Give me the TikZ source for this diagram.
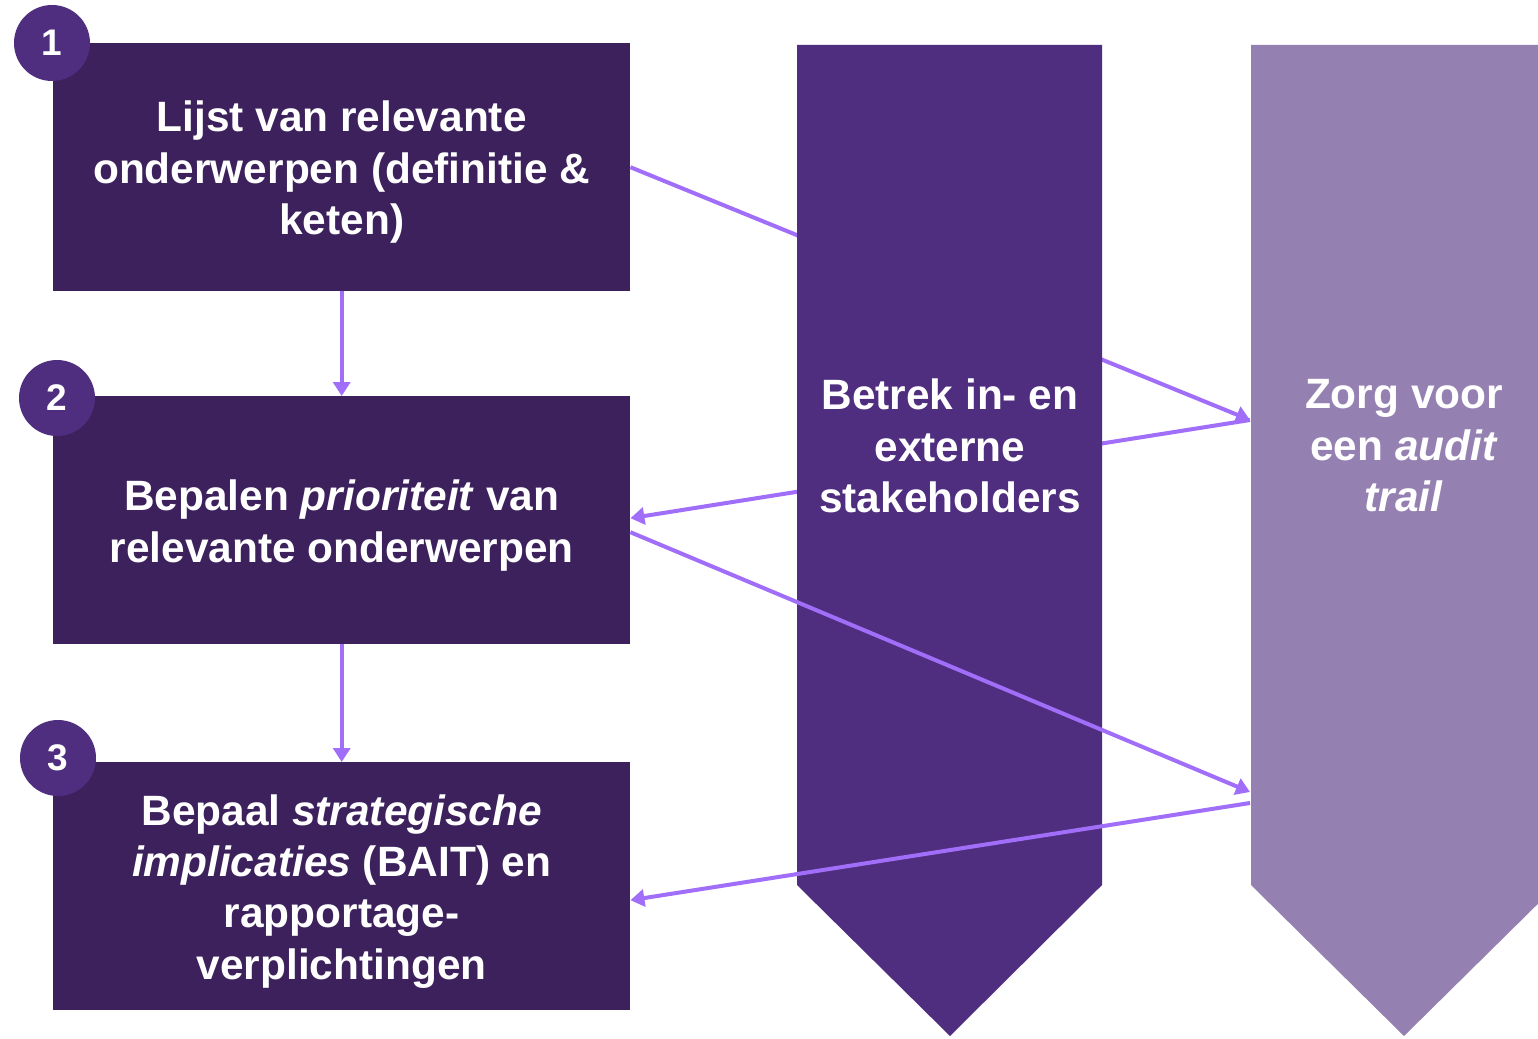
\documentclass[tikz,border=0pt]{standalone}
\usepackage{fontspec}
\setmainfont{Liberation Sans}
\usetikzlibrary{arrows.meta}
\definecolor{boxc}{HTML}{3C215C}
\definecolor{chev}{HTML}{4F2D7F}
\definecolor{chevl}{HTML}{9581B1}
\definecolor{arr}{HTML}{A06EF8}
\newcommand\firstlinestrut{\rule{0pt}{41pt}}
\begin{document}
\begin{tikzpicture}[x=1pt,y=-1pt,
  stepbox/.style={fill=boxc, minimum width=577pt, minimum height=248pt, inner sep=0pt, text=white,
    font=\fontsize{42.4}{51.4}\selectfont\bfseries, align=center, anchor=north west},
  numc/.style={circle, fill=chev, minimum size=76pt, inner sep=0pt, text=white,
    font=\fontsize{37}{40}\selectfont\bfseries},
  coltext/.style={text=white, font=\fontsize{42.4}{51.4}\selectfont\bfseries, align=center},
  conn/.style={draw=arr, line width=4pt, -{Triangle[length=14pt,width=17pt]}}]
\useasboundingbox (0,0) rectangle (1538,1038);
\fill[white] (0,0) rectangle (1538,1038);
% boxes
\path (53,43) node[stepbox] (b1) {\firstlinestrut Lijst van relevante\\onderwerpen (definitie \&\\keten)};
\path (53,396) node[stepbox] (b2) {\firstlinestrut Bepalen \textit{prioriteit} van\\relevante onderwerpen};
\path (53,762) node[stepbox] (b3) {\firstlinestrut Bepaal \textit{strategische}\\\textit{implicaties} (BAIT) en\\rapportage-\\verplichtingen};
\coordinate (z1) at (1250,420);
\coordinate (z2) at (1250,792);
\coordinate (z3) at (1250,803);
% connectors behind the first column
\draw[conn] (b1.east) -- (z1);
\draw[conn] (z1) -- ([yshift=2pt]b2.east);
\draw[conn] (b1.south) -- (b2.north);
\draw[conn] (b2.south) -- (b3.north);
% columns
\fill[chev] (797,45) -- (1102,45) -- (1102,885) -- (950,1036) -- (797,885) -- cycle;
\fill[chevl] (1251,45) -- (1557,45) -- (1557,885) -- (1404,1036) -- (1251,885) -- cycle;
\node[coltext] (t1) at (950,446) {Betrek in- en\\externe\\stakeholders};
\node[coltext] (t2) at (1404,446) {Zorg voor\\een \textit{audit}\\\textit{trail}};
% connectors over the first column
\draw[conn] ([yshift=-12pt]b2.east) -- (z2);
\draw[conn] (z3) -- ([yshift=-14pt]b3.east);
% number circles
\node[numc] (n1) at (52,43) {1};
\node[numc] (n2) at (57,398) {2};
\node[numc] (n3) at (58,758) {3};
\end{tikzpicture}
\end{document}
